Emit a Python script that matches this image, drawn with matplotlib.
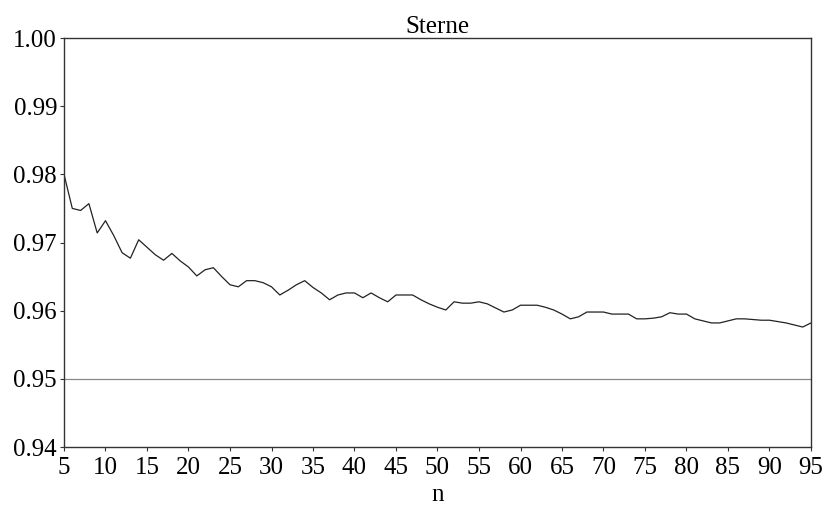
import matplotlib
matplotlib.use("Agg")
import matplotlib.pyplot as plt
import numpy as np

n = list(range(5, 96))
values = [
    0.9800, 0.9750, 0.9747, 0.9757, 0.9714, 0.9732, 0.9710, 0.9685, 0.9677, 0.9704,
    0.9693, 0.9682, 0.9674, 0.9684, 0.9673, 0.9664, 0.9651, 0.9660, 0.9663, 0.9650,
    0.9638, 0.9635, 0.9644, 0.9644, 0.9641, 0.9635, 0.9623, 0.9630, 0.9638, 0.9644,
    0.9634, 0.9626, 0.9616, 0.9623, 0.9626, 0.9626, 0.9619, 0.9626, 0.9619, 0.9613,
    0.9623, 0.9623, 0.9623, 0.9616, 0.9610, 0.9605, 0.9601, 0.9613, 0.9611, 0.9611,
    0.9613, 0.9610, 0.9604, 0.9598, 0.9601, 0.9608, 0.9608, 0.9608, 0.9605, 0.9601,
    0.9595, 0.9588, 0.9591, 0.9598, 0.9598, 0.9598, 0.9595, 0.9595, 0.9595, 0.9588,
    0.9588, 0.9589, 0.9591, 0.9597, 0.9595, 0.9595, 0.9588, 0.9585, 0.9582, 0.9582,
    0.9585, 0.9588, 0.9588, 0.9587, 0.9586, 0.9586, 0.9584, 0.9582, 0.9579, 0.9576,
    0.9582,
]
reference_level = 0.95
x_ticks = list(range(5, 96, 5))
y_ticks = [0.94, 0.95, 0.96, 0.97, 0.98, 0.99, 1.00]
title = "Sterne"
x_label = "n"

plt.rcParams['font.family'] = ['Liberation Serif', 'DejaVu Serif']

fig = plt.figure(figsize=(8.27, 5.11), dpi=100)
ax = fig.add_axes([64/827, 1 - 447/511, (811 - 64)/827, (447 - 38)/511])

ax.axhline(reference_level, color='#888888', linewidth=0.9, zorder=1)
ax.plot(n, values, color='#222222', linewidth=0.9, zorder=2)

ax.set_xlim(5, 95)
ax.set_ylim(0.94, 1.00)
ax.set_xticks(x_ticks)
ax.set_xticklabels([str(t) for t in x_ticks])
ax.set_yticks(y_ticks)
ax.set_yticklabels([f"{t:.2f}" for t in y_ticks])
ax.tick_params(direction='out', length=3, width=0.8, labelsize=18, colors='#333333', labelcolor='black')
ax.tick_params(axis='y', pad=2)
ax.tick_params(axis='x', pad=4)
for s in ax.spines.values():
    s.set_linewidth(1.0)
    s.set_color('#333333')

ax.set_title(title, fontsize=18, pad=3)
ax.set_xlabel(x_label, fontsize=18, labelpad=4)

fig.savefig("out.png", dpi=100)
